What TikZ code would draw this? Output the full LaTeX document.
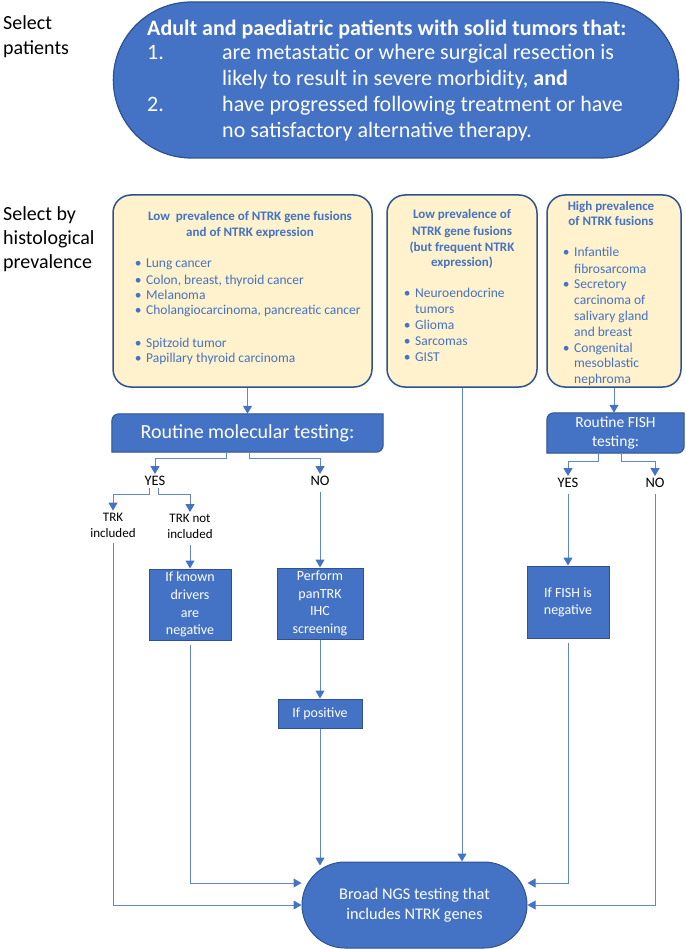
\documentclass[tikz,border=0pt]{standalone}
\usepackage{fontspec}
\setmainfont{Carlito}
\usetikzlibrary{arrows.meta,shapes.misc,backgrounds}
\definecolor{bfill}{HTML}{4472C4}
\definecolor{bline}{HTML}{2F528F}
\definecolor{yfill}{HTML}{FFF2CC}
\definecolor{ctext}{HTML}{4472C4}
\definecolor{conn}{HTML}{4472C4}
\tikzset{
 lbl/.style={anchor=base west, inner sep=0, font=\fontsize{20}{24}\selectfont},
 ybox/.style={draw=bline, line width=1.5pt, fill=yfill, rounded corners=18pt},
 ytitle/.style={anchor=base, inner sep=0, text=ctext, font=\bfseries\fontsize{13}{16}\selectfont},
 ylist/.style={anchor=base west, inner sep=0, text=ctext, font=\fontsize{13.5}{16}\selectfont},
 dbox/.style={fill=bfill, draw=bline, line width=1pt},
 dtext/.style={text=white, align=center, inner sep=0},
 ptext/.style={anchor=base west, inner sep=0, text=white, font=\fontsize{22}{26}\selectfont},
 smalllbl/.style={inner sep=2pt, align=center, font=\fontsize{13}{16}\selectfont},
 yn/.style={inner sep=2pt, font=\fontsize{14.5}{17}\selectfont},
 arr/.style={draw=conn!85, line width=1pt, -{Triangle[length=8pt,width=9pt,color=conn]}},
 plainline/.style={draw=conn!85, line width=1pt},
}
\newcommand\diagcorners[2]{%
 \draw[dbox] (#1.south west) -- ([yshift=-#2]#1.north west) arc[start angle=180,end angle=90,radius=#2] -- (#1.north east) -- ([yshift=#2]#1.south east) arc[start angle=0,end angle=-90,radius=#2] -- cycle;}
\newcommand\bul{\llap{•\hspace{4.5pt}}}
\begin{document}
\begin{tikzpicture}[x=1pt,y=-1pt]
\useasboundingbox (0,0) rectangle (685,949);

% left labels
\node[lbl] (sp1) at (3,30) {Select};
\node[lbl] (sp2) at (3,55) {patients};
\node[lbl] (sh1) at (3,221) {Select by};
\node[lbl] (sh2) at (3,245) {histological};
\node[lbl] (sh3) at (3,269) {prevalence};

% top pill
\node[rounded rectangle, dbox, line width=1.2pt, minimum width=572pt, minimum height=156pt] (top) at (396,80) {};
\node[ptext] (pt0) at (147,36) {\bfseries Adult and paediatric patients with solid tumors that:};
\node[ptext] (pn1) at (147,60) {1.};
\node[ptext] (pl1) at (222,60) {are metastatic or where surgical resection is};
\node[ptext] (pl2) at (222,86) {likely to result in severe morbidity, \textbf{and}};
\node[ptext] (pn2) at (147,112) {2.};
\node[ptext] (pl3) at (222,112) {have progressed following treatment or have};
\node[ptext] (pl4) at (222,138) {no satisfactory alternative therapy.};

% yellow boxes
\node[ybox, minimum width=259pt, minimum height=192pt] (b1) at (242.5,291) {};
\node[ybox, minimum width=150pt, minimum height=192pt] (b2) at (462,291) {};
\node[ybox, minimum width=134pt, minimum height=192pt] (b3) at (614,291) {};

\node[ytitle] (b1t1) at (250,221) {Low\ \ prevalence of NTRK gene fusions};
\node[ytitle] (b1t2) at (250,237) {and of NTRK expression};
\foreach \txt/\yy [count=\i] in {{\bul Lung cancer}/268, {\bul Colon, breast, thyroid cancer}/284, {\bul Melanoma}/299, {\bul Cholangiocarcinoma, pancreatic cancer}/314, {\bul Spitzoid tumor}/347, {\bul Papillary thyroid carcinoma}/362}
  \node[ylist] (b1l\i) at (146,\yy) {\txt};

\node[ytitle] (b2t1) at (462,219) {Low prevalence of};
\node[ytitle] (b2t2) at (462,236) {NTRK gene fusions};
\node[ytitle] (b2t3) at (462,252) {(but frequent NTRK};
\node[ytitle] (b2t4) at (462,267) {expression)};
\foreach \txt/\yy [count=\i] in {{\bul Neuroendocrine}/297, {tumors}/313, {\bul Glioma}/329, {\bul Sarcomas}/345, {\bul GIST}/361}
  \node[ylist] (b2l\i) at (415,\yy) {\txt};

\node[ytitle] (b3t1) at (611,211) {High prevalence};
\node[ytitle] (b3t2) at (611,226) {of NTRK fusions};
\foreach \txt/\yy [count=\i] in {{\bul Infantile}/257, {fibrosarcoma}/273, {\bul Secretory}/288, {carcinoma of}/304, {salivary gland}/320, {and breast}/336, {\bul Congenital}/352, {mesoblastic}/367, {nephroma}/383}
  \node[ylist] (b3l\i) at (574,\yy) {\txt};

% dark boxes
\node[dtext, minimum width=271pt, minimum height=38pt, font=\fontsize{20}{24}\selectfont] (rm) at (247.5,433) {Routine molecular testing:};
\node[dtext, minimum width=137pt, minimum height=40pt, font=\fontsize{15.5}{19}\selectfont] (rf) at (615.5,433) {Routine FISH\\testing:};
\begin{scope}[on background layer]
\diagcorners{rm}{7pt}
\diagcorners{rf}{7pt}
\end{scope}

\node[dbox, dtext, minimum width=82pt, minimum height=71pt, font=\fontsize{14}{17.7}\selectfont] (kd) at (190,604.5) {If known\\drivers\\are\\negative};
\node[dbox, dtext, minimum width=86pt, minimum height=71pt, font=\fontsize{14}{17.5}\selectfont] (ihc) at (320,603.5) {Perform\\panTRK\\IHC\\screening};
\node[dbox, dtext, minimum width=84pt, minimum height=29pt, font=\fontsize{14}{17}\selectfont] (pos) at (320,713.5) {If positive};
\node[dbox, dtext, minimum width=82pt, minimum height=72pt, font=\fontsize{14}{17}\selectfont] (fneg) at (568,602) {If FISH is\\negative};
\node[rounded rectangle, dbox, dtext, minimum width=225pt, minimum height=86pt, font=\fontsize{16.3}{20}\selectfont] (ngs) at (414.5,905) {Broad NGS testing that\\includes NTRK genes};

% labels
\node[yn] (yes1) at (155,481) {YES};
\node[yn] (no1) at (320,481) {NO};
\node[smalllbl] (trkin) at (113,525) {TRK\\included};
\node[smalllbl] (trknot) at (190,526.5) {TRK not\\included};
\node[yn] (yes2) at (568,483) {YES};
\node[yn] (no2) at (655,483) {NO};

% connectors
\draw[arr] (b1.south -| rm.north) -- (rm.north);
\draw[arr] (b3.south) -- (b3.south |- rf.north);
\draw[arr] ([xshift=-21pt]rm.south) -- ++(0,6) -| (yes1.north);
\draw[arr] ([xshift=2pt]rm.south) -- ++(0,6) -| (no1.north);
\draw[arr] ([xshift=-6pt]yes1.south) -- ++(0,7) -| (trkin.north);
\draw[arr] ([xshift=3pt]yes1.south) -- ++(0,7) -| (trknot.north);
\draw[arr, shorten <=4pt] (trknot.south) -- (kd.north);
\draw[arr, shorten <=4pt] (no1.south) -- (no1.south |- ihc.north);
\draw[arr] (ihc.south) -- (pos.north);
\draw[arr, shorten >=-4pt] (pos.south) -- (pos.south |- ngs.north);
\draw[arr] (b2.south) -- (b2.south |- ngs.north);
\draw[arr, shorten <=4pt] (trkin.south) |- (ngs.west);
\draw[arr, shorten <=4pt] (kd.south) |- ([yshift=22pt]ngs.west);
\draw[arr] ([xshift=-17pt]rf.south) -- ++(0,8) -| (yes2.north);
\draw[arr] ([xshift=6pt]rf.south) -- ++(0,8) -| (no2.north);
\draw[arr, shorten <=4pt] (yes2.south) -- (fneg.north);
\draw[arr, shorten <=4pt] (fneg.south) |- ([yshift=22pt]ngs.east);
\draw[arr, shorten <=4pt] (no2.south) |- (ngs.east);
\end{tikzpicture}
\end{document}
